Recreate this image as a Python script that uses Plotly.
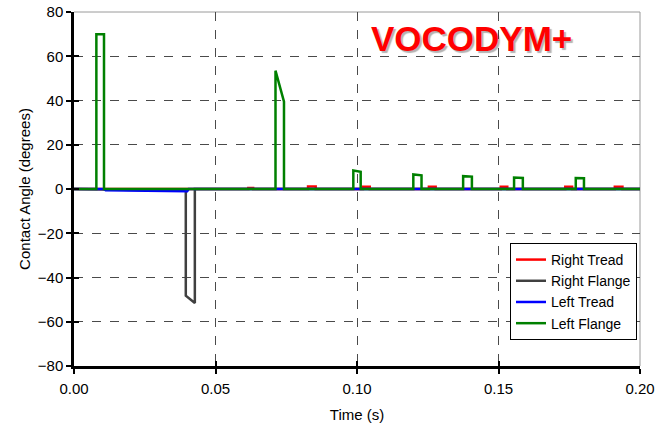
import plotly.graph_objects as go

# ---- data ----
lf_t = [0, 0.0079, 0.0079, 0.0106, 0.0106, 0.0712, 0.0712, 0.0742, 0.0742,
        0.0987, 0.0987, 0.1013, 0.1013, 0.1199, 0.1199, 0.1228, 0.1228,
        0.1375, 0.1375, 0.1406, 0.1406, 0.1555, 0.1555, 0.1586, 0.1586,
        0.1773, 0.1773, 0.1802, 0.1802, 0.2]
lf_v = [0, 0, 70, 70, 0, 0, 53.5, 39.5, 0,
        0, 8.4, 7.8, 0, 0, 6.6, 6.2, 0,
        0, 5.8, 5.6, 0, 0, 5.2, 5.0, 0,
        0, 5.0, 4.9, 0, 0]

rt_t = [0, 0.0616, 0.0616, 0.0633, 0.0633, 0.0827, 0.0827, 0.0854, 0.0854,
        0.1021, 0.1021, 0.1045, 0.1045, 0.1254, 0.1254, 0.1278, 0.1278,
        0.1508, 0.1508, 0.1531, 0.1531, 0.1736, 0.1736, 0.1760, 0.1760,
        0.1911, 0.1911, 0.1938, 0.1938, 0.2]
rt_v = [0, 0, 0.5, 0.5, 0, 0, 1.1, 1.1, 0,
        0, 1.0, 1.0, 0, 0, 1.0, 1.0, 0,
        0, 1.0, 1.0, 0, 0, 1.0, 1.0, 0,
        0, 1.0, 1.0, 0, 0]

rf_t = [0, 0.0395, 0.0395, 0.0427, 0.0427, 0.2]
rf_v = [0, -0.8, -48.2, -51.5, 0, 0]

lt_t = [0, 0.0106, 0.0112, 0.0400, 0.0405, 0.2]
lt_v = [0, 0, -0.6, -1.0, 0, 0]

x_ticks = [0.0, 0.05, 0.10, 0.15, 0.20]
y_ticks = [-80, -60, -40, -20, 0, 20, 40, 60, 80]

FONT = "Liberation Sans"
FS = 15

fig = go.Figure()
fig.add_trace(go.Scatter(x=rt_t, y=rt_v, mode="lines", name="Right Tread",
                         line=dict(color="#ff0000", width=2.5)))
fig.add_trace(go.Scatter(x=rf_t, y=rf_v, mode="lines", name="Right Flange",
                         line=dict(color="#404040", width=2.5)))
fig.add_trace(go.Scatter(x=lt_t, y=lt_v, mode="lines", name="Left Tread",
                         line=dict(color="#0000ff", width=2.5)))
fig.add_trace(go.Scatter(x=lf_t, y=lf_v, mode="lines", name="Left Flange",
                         line=dict(color="#008000", width=2.5)))
# invisible trace for overlay axes (inside ticks)
fig.add_trace(go.Scatter(x=[0], y=[0], xaxis="x2", yaxis="y2", mode="markers",
                         marker=dict(opacity=0), showlegend=False, hoverinfo="skip"))

axis_common = dict(showline=True, linecolor="black", linewidth=2.5,
                   ticks="outside", ticklen=5, tickwidth=2, tickcolor="black",
                   showgrid=True, gridcolor="#4a4a4a", griddash="dash", gridwidth=1,
                   zeroline=False, automargin=False,
                   tickfont=dict(family=FONT, size=FS, color="black"))

fig.update_layout(
    width=661, height=430,
    margin=dict(l=74, r=21, t=12, b=64, autoexpand=False),
    paper_bgcolor="white", plot_bgcolor="white",
    font=dict(family=FONT, size=FS, color="black"),
    xaxis=dict(range=[0, 0.2], tickvals=x_ticks, tickformat=".2f",
               ticklabelstandoff=2,
               title=dict(text="Time (s)", font=dict(size=FS), standoff=14),
               **axis_common),
    yaxis=dict(range=[-80, 80], tickvals=y_ticks,
               title=dict(text="Contact Angle (degrees)", font=dict(size=FS), standoff=4),
               **axis_common),
    xaxis2=dict(range=[0, 0.2], overlaying="x", anchor="y2", tickvals=x_ticks,
                ticks="inside", ticklen=5, tickwidth=2, tickcolor="black",
                showticklabels=False, showgrid=False, zeroline=False, showline=False),
    yaxis2=dict(range=[-80, 80], overlaying="y", anchor="x2", tickvals=y_ticks,
                ticks="inside", ticklen=5, tickwidth=2, tickcolor="black",
                showticklabels=False, showgrid=False, zeroline=False, showline=False),
    legend=dict(x=0.9947, xanchor="right", y=0.0735, yanchor="bottom",
                bgcolor="white", bordercolor="black", borderwidth=1,
                font=dict(family=FONT, size=14), itemwidth=30,
                tracegroupgap=0),
    showlegend=True,
    shapes=[
        dict(type="line", xref="paper", yref="paper", x0=0, x1=1, y0=1, y1=1,
             line=dict(color="#9a9a9a", width=1), layer="below"),
        dict(type="line", xref="paper", yref="paper", x0=1, x1=1, y0=0, y1=1,
             line=dict(color="#9a9a9a", width=1), layer="below"),
    ],
    annotations=[
        dict(text="<b>VOCODYM+</b>", xref="paper", yref="paper",
             x=0.703, y=0.925, xanchor="center", yanchor="middle", showarrow=False,
             font=dict(family=FONT, size=35, color="#ff0000",
                       shadow="2px 2px 1px rgba(0,0,0,0.3)")),
    ],
)

# remove the default 8px page margin so the figure fills the window exactly
fig.write_html("out.html", config={"displayModeBar": False},
               post_script="document.body.style.margin='0';")
